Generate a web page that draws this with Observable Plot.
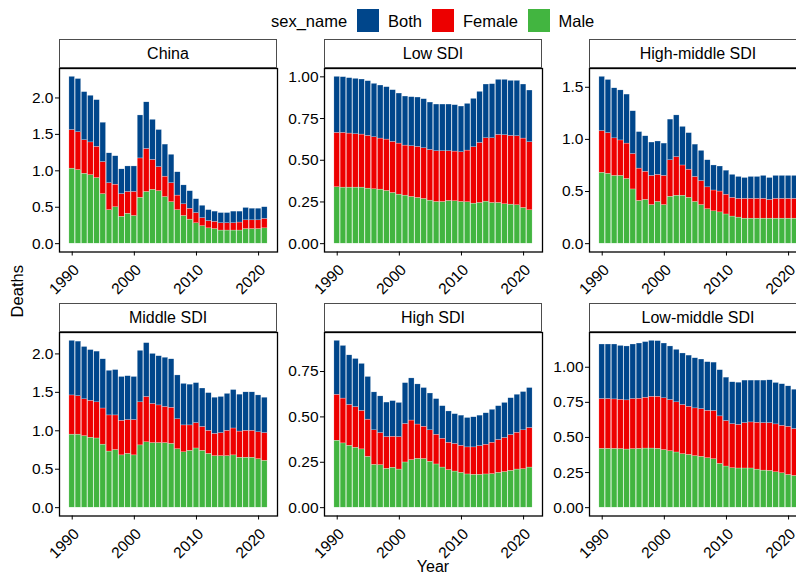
<!DOCTYPE html>
<html>
<head>
<meta charset="utf-8">
<script src="https://cdn.jsdelivr.net/npm/d3@7"></script>
<script src="https://cdn.jsdelivr.net/npm/@observablehq/plot@0.6"></script>
<style>
  html, body { margin: 0; padding: 0; background: #fff; }
  #chart { position: relative; width: 796px; height: 575px; overflow: hidden; background: #fff;
           font-family: "Liberation Sans", Arial, sans-serif; color: #000; }
  .strip { position: absolute; box-sizing: border-box; border: 1px solid #4d4d4d; background: #fff;
           font-size: 16px; display: flex; align-items: center; justify-content: center; }
  .panel { position: absolute; }
  .panel svg { display: block; max-width: none; }
  .txt { position: absolute; white-space: nowrap; line-height: 1; }
  .swatch { position: absolute; width: 22.5px; height: 22.5px; }
</style>
</head>
<body>
<div id="chart"></div>
<script>
// Years on the x axis and the decade ticks shown under each panel
const years = [1990, 1991, 1992, 1993, 1994, 1995, 1996, 1997, 1998, 1999,
               2000, 2001, 2002, 2003, 2004, 2005, 2006, 2007, 2008, 2009,
               2010, 2011, 2012, 2013, 2014, 2015, 2016, 2017, 2018, 2019,
               2020, 2021];
const yearTicks = [1990, 2000, 2010, 2020];

// Sex groups, their colours and the stacking order from the baseline up
const sexes = ["Both", "Female", "Male"];
const sexColors = ["#00468B", "#ED0000", "#42B540"];
const stackOrder = ["Male", "Female", "Both"];

// Deaths by region and sex, 1990-2021
const chinaMale   = [1.03,1.01,0.96,0.94,0.90,0.68,0.46,0.50,0.37,0.41,0.38,0.63,0.71,0.74,0.72,0.64,0.57,0.46,0.38,0.33,0.28,0.24,0.21,0.20,0.18,0.18,0.18,0.18,0.20,0.20,0.20,0.21];
const chinaFemale = [0.53,0.52,0.46,0.45,0.43,0.44,0.37,0.31,0.31,0.30,0.33,0.54,0.59,0.41,0.33,0.28,0.26,0.20,0.16,0.15,0.14,0.11,0.10,0.10,0.10,0.10,0.10,0.11,0.12,0.12,0.12,0.13];
const chinaBoth   = [0.73,0.73,0.66,0.64,0.64,0.54,0.41,0.39,0.34,0.35,0.35,0.59,0.64,0.55,0.51,0.44,0.39,0.32,0.26,0.24,0.19,0.17,0.15,0.14,0.14,0.14,0.16,0.15,0.17,0.16,0.16,0.16];

const lowMale   = [0.338,0.336,0.336,0.336,0.336,0.330,0.326,0.324,0.316,0.304,0.294,0.288,0.280,0.274,0.268,0.258,0.250,0.250,0.256,0.254,0.250,0.248,0.240,0.244,0.252,0.244,0.244,0.236,0.234,0.230,0.214,0.200];
const lowFemale = [0.326,0.328,0.324,0.320,0.318,0.316,0.312,0.306,0.308,0.306,0.306,0.300,0.304,0.306,0.304,0.304,0.304,0.304,0.298,0.298,0.298,0.310,0.338,0.360,0.380,0.388,0.408,0.414,0.412,0.414,0.416,0.408];
const lowBoth   = [0.336,0.334,0.332,0.332,0.330,0.328,0.320,0.318,0.314,0.310,0.300,0.294,0.294,0.296,0.294,0.284,0.280,0.280,0.280,0.278,0.274,0.280,0.290,0.306,0.322,0.324,0.330,0.332,0.330,0.332,0.324,0.310];

const highMiddleMale   = [0.68,0.67,0.65,0.65,0.62,0.52,0.41,0.42,0.37,0.40,0.37,0.45,0.46,0.46,0.44,0.40,0.37,0.33,0.31,0.30,0.28,0.26,0.25,0.24,0.24,0.24,0.24,0.24,0.24,0.24,0.24,0.24];
const highMiddleFemale = [0.40,0.39,0.36,0.34,0.34,0.34,0.31,0.27,0.28,0.26,0.28,0.35,0.37,0.29,0.27,0.24,0.23,0.21,0.20,0.20,0.19,0.18,0.18,0.19,0.19,0.19,0.19,0.18,0.19,0.19,0.19,0.19];
const highMiddleBoth   = [0.52,0.51,0.48,0.48,0.47,0.41,0.35,0.34,0.32,0.32,0.31,0.39,0.40,0.37,0.35,0.31,0.29,0.26,0.24,0.24,0.23,0.22,0.21,0.20,0.21,0.21,0.22,0.21,0.22,0.22,0.22,0.22];

const middleMale   = [0.95,0.95,0.93,0.91,0.90,0.82,0.73,0.75,0.68,0.70,0.68,0.81,0.85,0.84,0.84,0.84,0.83,0.76,0.72,0.74,0.77,0.74,0.70,0.67,0.67,0.67,0.68,0.65,0.65,0.65,0.63,0.61];
const middleFemale = [0.51,0.50,0.48,0.48,0.47,0.47,0.47,0.45,0.45,0.44,0.46,0.56,0.59,0.51,0.49,0.47,0.47,0.39,0.35,0.33,0.33,0.31,0.30,0.29,0.30,0.33,0.35,0.34,0.35,0.35,0.35,0.36];
const middleBoth   = [0.71,0.71,0.68,0.66,0.66,0.64,0.58,0.59,0.57,0.57,0.56,0.67,0.70,0.65,0.64,0.64,0.63,0.57,0.54,0.53,0.52,0.50,0.49,0.47,0.47,0.48,0.50,0.48,0.50,0.50,0.48,0.46];

const highMale   = [0.369,0.354,0.341,0.330,0.321,0.280,0.236,0.234,0.214,0.220,0.210,0.249,0.262,0.269,0.268,0.253,0.238,0.221,0.207,0.199,0.192,0.183,0.181,0.181,0.183,0.185,0.192,0.196,0.203,0.210,0.212,0.221];
const highFemale = [0.253,0.247,0.225,0.224,0.212,0.205,0.190,0.177,0.175,0.171,0.179,0.212,0.218,0.189,0.178,0.173,0.164,0.159,0.151,0.152,0.149,0.149,0.151,0.158,0.164,0.173,0.181,0.188,0.197,0.203,0.214,0.218];
const highBoth   = [0.297,0.290,0.273,0.265,0.259,0.235,0.209,0.202,0.190,0.196,0.188,0.225,0.232,0.221,0.213,0.203,0.196,0.179,0.172,0.164,0.166,0.162,0.166,0.168,0.173,0.181,0.186,0.193,0.203,0.209,0.211,0.220];

const lowMiddleMale   = [0.419,0.419,0.419,0.417,0.414,0.417,0.419,0.421,0.421,0.419,0.410,0.402,0.393,0.381,0.376,0.367,0.362,0.352,0.345,0.312,0.293,0.281,0.279,0.279,0.279,0.271,0.264,0.262,0.252,0.245,0.233,0.226];
const lowMiddleFemale = [0.355,0.355,0.352,0.352,0.350,0.357,0.357,0.362,0.369,0.371,0.369,0.365,0.357,0.350,0.343,0.340,0.340,0.338,0.343,0.338,0.324,0.314,0.311,0.323,0.328,0.334,0.338,0.340,0.341,0.338,0.343,0.334];
const lowMiddleBoth   = [0.388,0.388,0.391,0.383,0.384,0.388,0.393,0.396,0.398,0.396,0.390,0.381,0.374,0.367,0.364,0.357,0.353,0.346,0.345,0.329,0.309,0.298,0.300,0.303,0.298,0.300,0.303,0.305,0.295,0.296,0.288,0.280];

// Candidate tick values for each panel's own y scale
const ticksHalf    = [0, 0.5, 1, 1.5, 2];
const ticksQuarter = [0, 0.25, 0.5, 0.75, 1];

// Panel order: left to right, top row first
const panels = [
  {name: "China",           male: chinaMale,       female: chinaFemale,       both: chinaBoth,       ticks: ticksHalf,    format: ".1f"},
  {name: "Low SDI",         male: lowMale,         female: lowFemale,         both: lowBoth,         ticks: ticksQuarter, format: ".2f"},
  {name: "High-middle SDI", male: highMiddleMale,  female: highMiddleFemale,  both: highMiddleBoth,  ticks: ticksHalf,    format: ".1f"},
  {name: "Middle SDI",      male: middleMale,      female: middleFemale,      both: middleBoth,      ticks: ticksHalf,    format: ".1f"},
  {name: "High SDI",        male: highMale,        female: highFemale,        both: highBoth,        ticks: ticksQuarter, format: ".2f"},
  {name: "Low-middle SDI",  male: lowMiddleMale,   female: lowMiddleFemale,   both: lowMiddleBoth,   ticks: ticksQuarter, format: ".2f"}
];

const chart = document.getElementById("chart");
const FONT = "'Liberation Sans', Arial, sans-serif";

// Panel geometry (plot area of each facet)
const areaW = 218, areaH = 183.5;
const colLeft = [59, 324, 589];
const rowTop = [67.5, 331.5];
const stripH = 28.2;
const ML = 56, MR = 3, MT = 3, MB = 52;
const barHalf = 0.45;
const xDomain = [1989.55 - 0.05 * 31.9, 2021.45 + 0.05 * 31.9];

function addText(str, x, y, size, extra = {}) {
  const el = document.createElement("div");
  el.className = "txt";
  el.textContent = str;
  el.style.left = x + "px";
  el.style.top = y + "px";
  el.style.fontSize = size + "px";
  Object.assign(el.style, extra);
  chart.appendChild(el);
  return el;
}

panels.forEach((p, i) => {
  const col = i % 3, row = Math.floor(i / 3);
  const left = colLeft[col], top = rowTop[row];

  const rows = [];
  years.forEach((year, j) => {
    rows.push({year, sex: "Male", value: p.male[j]});
    rows.push({year, sex: "Female", value: p.female[j]});
    rows.push({year, sex: "Both", value: p.both[j]});
  });
  const maxTotal = d3.max(years, (_, j) => p.male[j] + p.female[j] + p.both[j]);
  const yDomain = [-0.05 * maxTotal, 1.05 * maxTotal];
  const yTicks = p.ticks.filter(t => t >= yDomain[0] && t <= yDomain[1]);

  const svg = Plot.plot({
    width: areaW + ML + MR,
    height: areaH + MT + MB,
    marginLeft: ML, marginRight: MR, marginTop: MT, marginBottom: MB,
    style: {fontFamily: FONT, fontSize: "15.5px", color: "#000", background: "transparent", overflow: "visible"},
    x: {domain: xDomain, ticks: yearTicks, tickFormat: () => "", tickSize: 4, label: null},
    y: {domain: yDomain, ticks: yTicks, tickFormat: d3.format(p.format), tickSize: 4, tickPadding: 2, label: null},
    color: {domain: sexes, range: sexColors},
    marks: [
      Plot.rectY(rows, Plot.stackY({
        x: "year",
        x1: d => d.year - barHalf,
        x2: d => d.year + barHalf,
        y: "value",
        fill: "sex",
        order: stackOrder,
        stroke: "white",
        strokeWidth: 0.35,
        strokeOpacity: 0.7
      })),
      Plot.frame({stroke: "#000", strokeWidth: 1.3}),
      // Year labels, slanted and hanging from the tick ends
      Plot.text(yearTicks, {
        x: d => d,
        text: d => String(d),
        frameAnchor: "bottom",
        dy: 11,
        rotate: -45,
        textAnchor: "end",
        lineAnchor: "top",
        fontSize: 15.5,
        fill: "#000"
      })
    ]
  });

  const holder = document.createElement("div");
  holder.className = "panel";
  holder.style.left = (left - ML) + "px";
  holder.style.top = (top - MT) + "px";
  holder.style.width = (areaW + ML + MR) + "px";
  holder.appendChild(svg);
  chart.appendChild(holder);

  const strip = document.createElement("div");
  strip.className = "strip";
  strip.style.left = left + "px";
  strip.style.top = (top - stripH) + "px";
  strip.style.width = areaW + "px";
  strip.style.height = (stripH + 0.5) + "px";
  strip.textContent = p.name;
  chart.appendChild(strip);
});

// Legend across the top
addText("sex_name", 271, 12.5, 16.5);
const legendItems = [
  {label: "Both", sw: 356.8, tx: 388},
  {label: "Female", sw: 431.8, tx: 463},
  {label: "Male", sw: 527.8, tx: 558.5}
];
legendItems.forEach(item => {
  const sw = document.createElement("div");
  sw.className = "swatch";
  sw.style.left = item.sw + "px";
  sw.style.top = "9.3px";
  sw.style.background = sexColors[sexes.indexOf(item.label)];
  chart.appendChild(sw);
  addText(item.label, item.tx, 12.5, 16.5);
});

// Axis titles
addText("Year", 0, 559, 16, {width: "866px", textAlign: "center"});
addText("Deaths", -33, 282.5, 16.5, {width: "100px", textAlign: "center", transform: "rotate(-90deg)"});
</script>
</body>
</html>
